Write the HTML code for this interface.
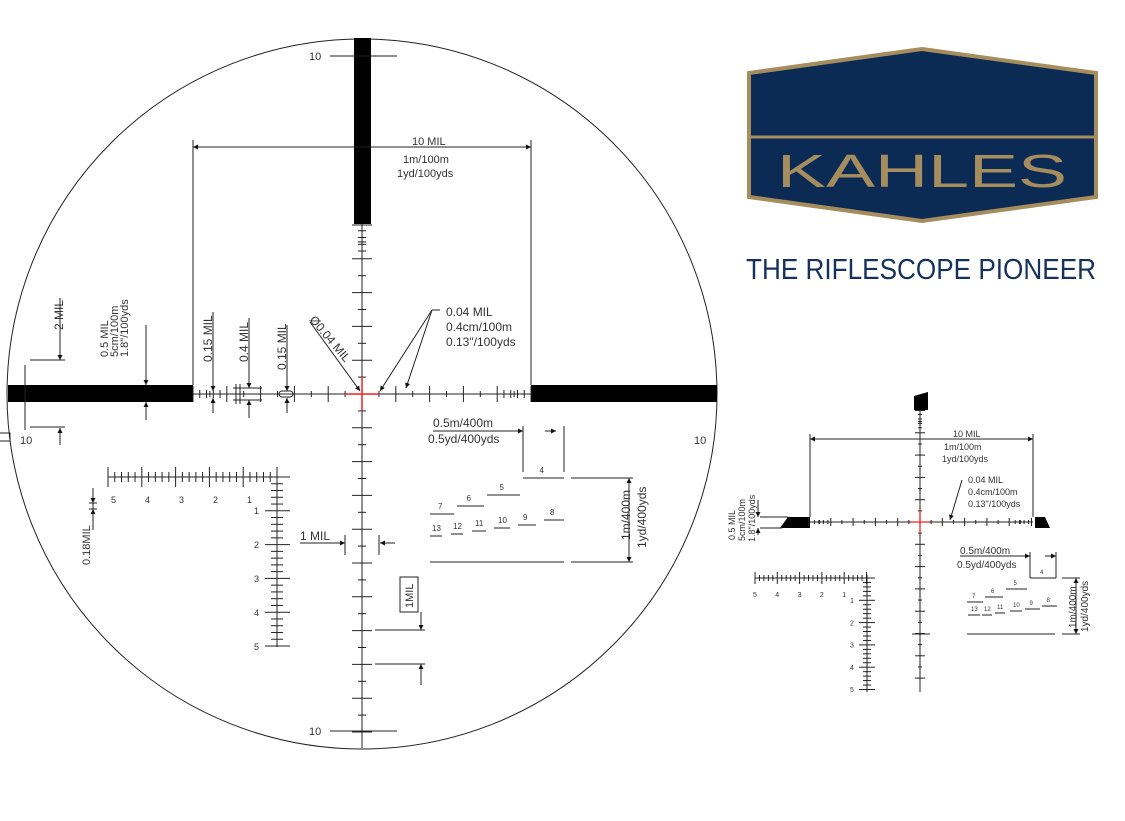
<!DOCTYPE html>
<html><head><meta charset="utf-8">
<style>
html,body{margin:0;padding:0;background:#fff;}
svg{display:block;}
text{font-family:"Liberation Sans",sans-serif;fill:#333;}
</style></head>
<body>
<svg id="s" width="1125" height="821" viewBox="0 0 1125 821" xmlns="http://www.w3.org/2000/svg">
<defs>
<marker id="a" viewBox="0 0 10 10" refX="10" refY="5" markerWidth="9" markerHeight="5" orient="auto-start-reverse" markerUnits="userSpaceOnUse"><path d="M0,0 L10,5 L0,10z" fill="#111"/></marker>
</defs>
<!-- logo -->
<polygon points="922,49 1096,73 1096,197 922,221 749,197 749,73" fill="#0b2b55" stroke="#a58d5e" stroke-width="4"/>
<line x1="751" y1="137" x2="1094" y2="137" stroke="#a58d5e" stroke-width="3"/>
<text x="922" y="187" text-anchor="middle" font-size="46" style="fill:#a58d5e" textLength="290" lengthAdjust="spacingAndGlyphs">KAHLES</text>
<text x="921" y="279" text-anchor="middle" font-size="29" style="fill:#15325e" textLength="350" lengthAdjust="spacingAndGlyphs">THE RIFLESCOPE PIONEER</text>
<g id="g" stroke="#222" stroke-width="1" fill="none"></g>
<g id="t" font-size="11"></g>
</svg>
<script>
const g=document.getElementById('g'),T=document.getElementById('t'),NS='http://www.w3.org/2000/svg';
function el(tag,at,par){const e=document.createElementNS(NS,tag);for(const k in at)e.setAttribute(k,at[k]);(par||g).appendChild(e);return e;}
function L(x1,y1,x2,y2,o){return el('line',Object.assign({x1,y1,x2,y2},o||{}));}
function A(x1,y1,x2,y2){return L(x1,y1,x2,y2,{'marker-end':'url(#a)'});}
function R(x,y,w,h){return el('rect',{x,y,width:w,height:h,fill:'#000',stroke:'none'});}
function X(x,y,s,o){o=o||{};const t=el('text',Object.assign({x,y},o),T);t.textContent=s;if(o.fs)t.setAttribute('font-size',o.fs);return t;}
function XR(x,y,s,fs){return X(x,y,s,{transform:`rotate(-90 ${x} ${y})`,'font-size':fs||11});}
// main reticle
const cx=362,cy=394,m=33.8;
el('circle',{cx,cy,r:355});
R(354,38,17,186);R(8,385,185,17);R(531,385,186,17);
L(193,cy,531,cy);L(cx,224,cx,748);
for(let i=-5;i<=5;i++){if(i==0)continue;const x=cx+i*m;L(x,cy-8,x,cy+8);const h=cx+(i-0.5*Math.sign(i))*m;L(h,cy-3,h,cy+3);}
for(let k=1;k<5;k++){L(193+k*6.76,cy-4,193+k*6.76,cy+4);L(531-k*6.76,cy-4,531-k*6.76,cy+4);}
for(let i=1;i<=10;i++){const y=cy+i*m;L(cx-10,y,cx+10,y);L(cx-4,y-m/2,cx+4,y-m/2);}
for(let i=1;i<=5;i++){const y=cy-i*m;L(cx-10,y,cx+10,y);L(cx-4,y+m/2,cx+4,y+m/2);}
for(let k=1;k<5;k++){L(cx-4,224+k*6.76,cx+4,224+k*6.76);}
L(330,731,397,731);X(309,735,'10');
L(330,56,397,56);X(309,60,'10');
X(694,444,'10');X(20,444,'10');el('rect',{x:-2,y:433,width:12,height:8});
// red cross
L(cx-17,cy,cx+17,cy,{stroke:'#e22','stroke-width':1.5});L(cx,cy-17,cx,cy+17,{stroke:'#e22','stroke-width':1.5});
// 10 MIL dim
A(300,147,193,147);A(420,147,531,147);L(300,147,420,147);
L(193,140,193,385);L(531,140,531,385);
X(412,145,'10 MIL');X(403,163,'1m/100m');X(397,177,'1yd/100yds');
// left dims
L(60,298,60,345);A(60,345,60,360);A(60,445,60,428);L(30,360,65,360);L(30,427,65,427);L(25,365,25,430);XR(63,330,'2 MIL',12);
XR(108,357,'0.5 MIL');XR(118,357,'5cm/100m');XR(128,357,'1.8"/100yds');
L(146,325,146,370);A(146,370,146,385);A(146,420,146,402);
L(213,312,213,378);A(213,378,213,391);A(213,413,213,398);XR(212,362,'0.15 MIL',12);
L(249,318,249,378);A(249,378,249,388);A(249,418,249,400);XR(248,362,'0.4 MIL',12);L(233,388,262,388);L(233,400,262,400);L(236,384,236,404);L(240,384,240,404);
L(287,325,287,378);A(287,378,287,391);A(287,413,287,398);XR(286,370,'0.15 MIL',12);el('rect',{x:279,y:391,width:14,height:6,rx:3});
// Ø0.04
A(310,322,360,391);X(309,320,'Ø0.04 MIL',{transform:'rotate(50 309 320)','font-size':12});
// 0.04 MIL
L(432,310,440,310);A(432,310,380,391);A(432,310,406,388);
X(446,316,'0.04 MIL',{fs:12});X(446,331,'0.4cm/100m',{fs:12});X(446,346,'0.13"/100yds',{fs:12});
// rulers
L(108,477,290,477);L(108,468,108,486);
for(let i=0;i<=25;i++){const x=108+i*6.76;const big=i%5==0;L(x,big?467:472,x,big?487:482);}
['5','4','3','2','1'].forEach((s,i)=>X(111+i*34,503,s,{fs:9}));
L(277,470,277,647);
for(let i=0;i<=25;i++){const y=477+i*6.76;const big=i%5==0;L(big?265:271,y,big?290:283,y);}
['1','2','3','4','5'].forEach((s,i)=>X(254,514+i*34,s,{fs:9}));
L(93,488,93,520);A(93,490,93,503);A(93,530,93,509);L(89,503,97,503);L(89,509,97,509);XR(90,565,'0.18MIL');
// 1 MIL
X(300,540,'1 MIL',{fs:12});L(300,543,330,543);A(330,543,345,543);A(395,543,380,543);L(345,535,345,555);L(379,535,379,555);
el('rect',{x:400,y:577,width:18,height:35});XR(413,608,'1MIL',11);
L(375,630,425,630);L(375,664,425,664);A(421,612,421,630);A(421,685,421,664);
// range estimation
X(433,427,'0.5m/400m',{fs:12});X(428,443,'0.5yd/400yds',{fs:12});L(433,431,520,431);
A(510,431,523,431);A(545,431,556,431);L(523,426,523,472);L(564,426,564,472);
[[523,564,478,'4'],[487,520,495,'5'],[457,484,506,'6'],[430,454,514,'7'],[544,564,520,'8'],[518,536,525,'9'],[494,510,528,'10'],[472,486,531,'11'],[451,463,534,'12'],[430,442,536,'13']].forEach(a=>{L(a[0],a[2],a[1],a[2]);X((a[0]+a[1])/2-4,a[2]-5,a[3],{fs:8});});
L(571,478,633,478);L(430,562,564,562);L(571,562,633,562);
A(629,520,629,478);A(629,520,629,562);
XR(630,540,'1m/400m',12);XR(646,548,'1yd/400yds',12);
// small reticle
const c2=920,d=522,n=22.3;
L(810,d,1033,d);L(c2,400,c2,692);
el('polygon',{points:'914,396 928,392 928,410 914,410',fill:'#000',stroke:'none'});
el('polygon',{points:'788,517 810,517 810,528 780,528',fill:'#000',stroke:'none'});
el('polygon',{points:'1035,517 1045,517 1050,528 1035,528',fill:'#000',stroke:'none'});
for(let i=-5;i<=5;i++){if(!i)continue;const x=c2+i*n;L(x,d-4,x,d+4);const h=c2+(i-0.5*Math.sign(i))*n;L(h,d-2,h,d+2);}
for(let k=1;k<5;k++){L(810+k*4.46,d-2,810+k*4.46,d+2);L(1033-k*4.46,d-2,1033-k*4.46,d+2);}
for(let i=-5;i<=7;i++){if(!i)continue;const y=d+i*n;L(c2-5,y,c2+5,y);L(c2-2,y-n/2*Math.sign(i),c2+2,y-n/2*Math.sign(i));}
for(let k=1;k<5;k++)L(c2-2,410+k*4.46,c2+2,410+k*4.46);
L(912,634,930,634);
L(c2-10,d,c2+10,d,{stroke:'#e22','stroke-width':1.3});L(c2,d-12,c2,d+12,{stroke:'#e22','stroke-width':1.3});
A(900,439,810,439);A(950,439,1033,439);L(900,439,950,439);L(810,434,810,517);L(1033,434,1033,517);
X(953,437,'10 MIL',{fs:9});X(944,450,'1m/100m',{fs:9});X(942,462,'1yd/100yds',{fs:9});
X(968,483,'0.04 MIL',{fs:9});X(968,495,'0.4cm/100m',{fs:9});X(968,507,'0.13"/100yds',{fs:9});A(962,480,950,520);
XR(735,540,'0.5 MIL',9);XR(745,541,'5cm/100m',9);XR(755,542,'1.8"/100yds',9);
L(758,500,758,510);A(758,505,758,517);A(758,535,758,528);L(760,517,788,517);L(760,528,782,528);
L(755,578,868,578);for(let i=0;i<=25;i++){const x=755+i*4.46,b=i%5==0;L(x,b?572:575,x,b?584:581);}
['5','4','3','2','1'].forEach((s,i)=>X(753+i*22.3,597,s,{fs:7}));
L(867,575,867,692);for(let i=0;i<=25;i++){const y=578+i*4.46,b=i%5==0;L(b?859:863,y,b?875:871,y);}
['1','2','3','4','5'].forEach((s,i)=>X(850,603+i*22.3,s,{fs:7}));
X(960,554,'0.5m/400m',{fs:10});X(957,568,'0.5yd/400yds',{fs:10});L(960,556,1030,556);
A(1022,556,1030,556);A(1045,556,1056,556);L(1030,552,1030,578);L(1056,552,1056,578);
[[1030,1056,578,'4'],[1006,1027,589,'5'],[985,1003,597,'6'],[967,983,602,'7'],[1042,1057,606,'8'],[1025,1040,609,'9'],[1010,1022,611,'10'],[995,1005,613,'11'],[982,992,615,'12'],[968,980,615,'13']].forEach(a=>{L(a[0],a[2],a[1],a[2]);X((a[0]+a[1])/2-3,a[2]-4,a[3],{fs:6});});
L(1062,578,1080,578);L(967,634,1055,634);L(1062,634,1080,634);
A(1076,606,1076,578);A(1076,606,1076,634);
XR(1076,628,'1m/400m',10);XR(1088,632,'1yd/400yds',10);
</script>
</body></html>
